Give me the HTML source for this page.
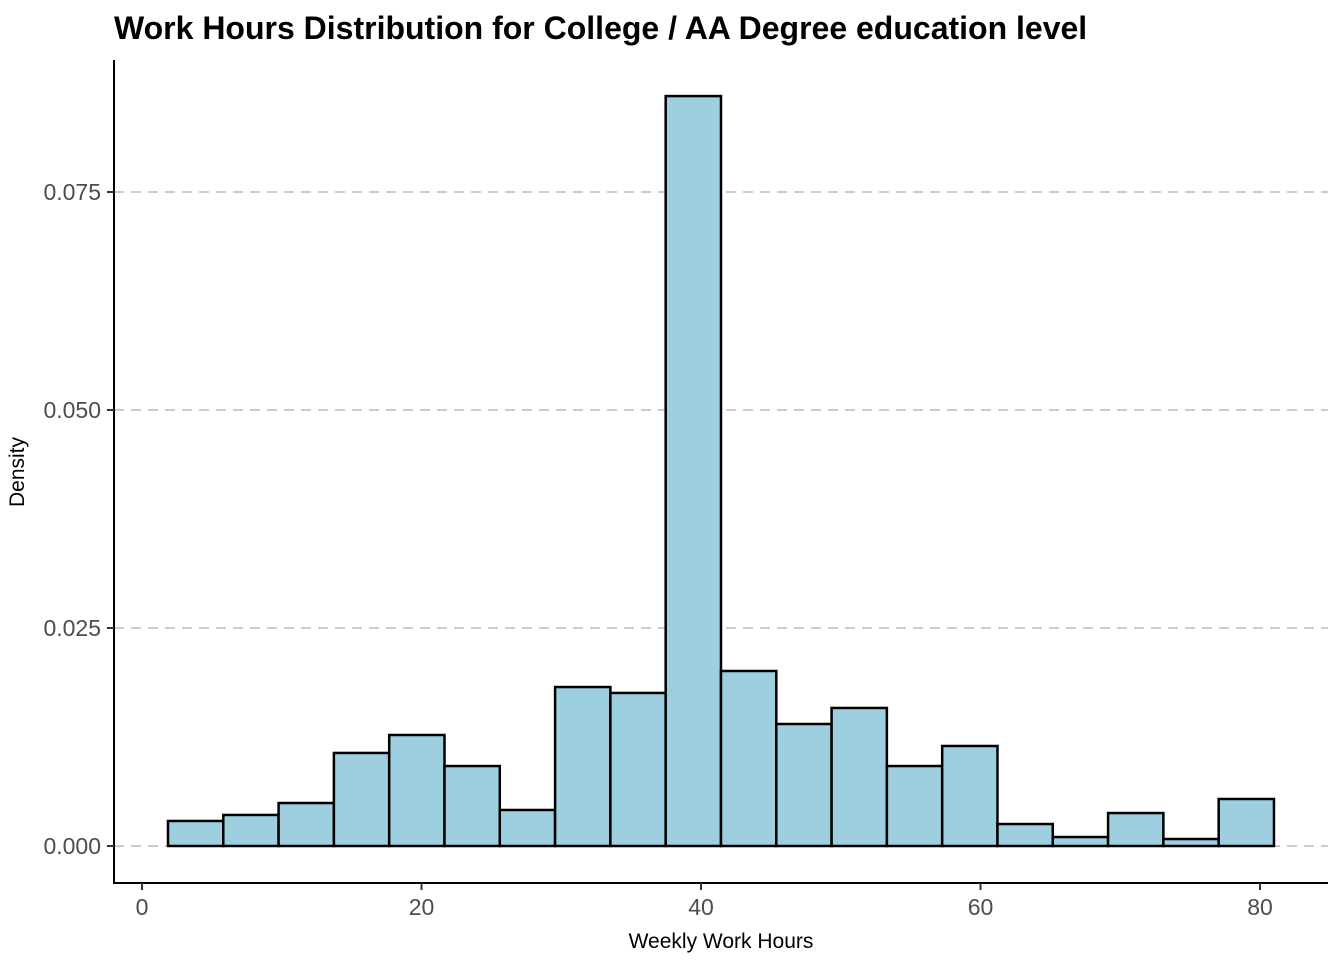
<!DOCTYPE html>
<html><head><meta charset="utf-8"><style>
html,body{margin:0;padding:0;background:#fff;}
svg{display:block;font-family:"Liberation Sans",Arial,sans-serif;}
</style></head><body>
<svg id="chart" width="1344" height="960" viewBox="0 0 1344 960">
<text x="114" y="39" font-size="32" font-weight="bold" fill="#000">Work Hours Distribution for College / AA Degree education level</text>
<g id="grid"></g>
<g id="bars"></g>
<line x1="114" y1="60" x2="114" y2="884" stroke="#000" stroke-width="2"/>
<line x1="113" y1="883" x2="1328" y2="883" stroke="#000" stroke-width="2"/>
<g id="ticks"></g>
<text x="721" y="948" font-size="21" text-anchor="middle" fill="#000">Weekly Work Hours</text>
<text transform="translate(24,472) rotate(-90)" font-size="21" text-anchor="middle" fill="#000">Density</text>
</svg>
<script>
const binStart = 1.86;
const binWidth = 3.957;
const densities = [0.00287,0.00356,0.00493,0.01067,0.01273,0.00917,0.00413,0.01823,0.01755,0.0860,0.02007,0.01399,0.01583,0.00917,0.01147,0.00252,0.00103,0.00378,0.0008,0.00539];
const xTicks = [0,20,40,60,80];
const yTicks = [0,0.025,0.05,0.075];
const yTickLabels = ["0.000","0.025","0.050","0.075"];

const NS="http://www.w3.org/2000/svg";
const xs = v => 142 + v*13.975;
const ys = v => 846 - v*8720;
function mk(tag, attrs, parent){const e=document.createElementNS(NS,tag);for(const k in attrs)e.setAttribute(k,attrs[k]);document.getElementById(parent).appendChild(e);return e;}

yTicks.forEach((t,i)=>{
  const g=mk('line',{x1:114,x2:1328,y1:ys(t),y2:ys(t),stroke:'#cccccc','stroke-width':2,'stroke-dasharray':'10,7'},'grid');
  
  
  const tk=mk('line',{x1:107,x2:114,y1:ys(t),y2:ys(t),stroke:'#333','stroke-width':2},'ticks');
  
  
  const tl=mk('text',{x:101,y:ys(t)+8,'font-size':23,'text-anchor':'end',fill:'#4d4d4d'},'ticks');
  tl.textContent=yTickLabels[i];
  
  
});
xTicks.forEach(t=>{
  const tk=mk('line',{x1:xs(t),x2:xs(t),y1:883,y2:890,stroke:'#333','stroke-width':2},'ticks');
  
  
  const tl=mk('text',{x:xs(t),y:915,'font-size':23,'text-anchor':'middle',fill:'#4d4d4d'},'ticks');
  tl.textContent=t;
  
  
});
densities.forEach((d,i)=>{
  const x0=xs(binStart+i*binWidth), x1=xs(binStart+(i+1)*binWidth);
  const r=mk('rect',{x:x0,y:ys(d),width:x1-x0,height:ys(0)-ys(d),fill:'#9ecfe0',stroke:'#000','stroke-width':2.5},'bars');
  
  
});
</script>
</body></html>
